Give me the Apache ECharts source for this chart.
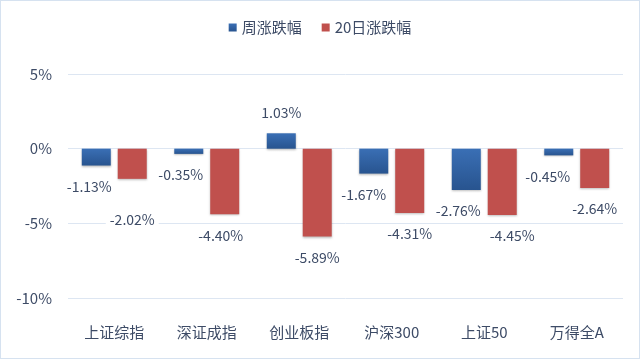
<!DOCTYPE html>
<html><head><meta charset="utf-8">
<script src="https://cdn.jsdelivr.net/npm/echarts@6/dist/echarts.min.js"></script>
<style>
html,body{margin:0;padding:0;background:#fff;}
#c{position:absolute;left:0;top:0;width:638px;height:357px;border:1px solid #d6e2f0;}
</style></head>
<body><div id="c"></div>
<script>
const categories = ['上证综指','深证成指','创业板指','沪深300','上证50','万得全A'];
const weekly = [-1.13, -0.35, 1.03, -1.67, -2.76, -0.45];
const day20 = [-2.02, -4.40, -5.89, -4.31, -4.45, -2.64];
const yTicks = [-10, -5, 0, 5];
const seriesNames = ['周涨跌幅','20日涨跌幅'];

const font = '"Noto Sans CJK SC", "Noto Sans", sans-serif';
const textColor = '#3d4b66';
const blueOffsets = [-7, -8, 0, -10, -8, -11];
const redOffsets = [0, -4, 0, 0, 10, 0];
const redExtraY = [20, 0, 0, 0, 0, 0];

function mk(vals, xoffs, yoffs){
  return vals.map((v,i)=>({value:v, label:{position: v >= 0 ? 'top' : 'bottom', offset:[xoffs[i], yoffs ? yoffs[i] : 0]}}));
}
const labelCommon = {
  show:true, position:'bottom', distance:12,
  formatter: p => p.value.toFixed(2) + '%',
  color: textColor, fontSize: 14, fontFamily: font,
  backgroundColor:'#fff', padding:[2,4]
};

const chart = echarts.init(document.getElementById('c'));
chart.setOption({
  animation:false,
  backgroundColor:'#fff',
  color:['#2e5f9f','#c0504d'],
  legend:{
    top:14, left:'center', itemWidth:8, itemHeight:8, itemGap:20, icon:'rect',
    textStyle:{color:textColor, fontSize:15, fontFamily:font}
  },
  grid:{left:67, right:16, top:73, bottom:60, containLabel:false},
  xAxis:{
    type:'category', data:categories,
    axisLine:{show:false}, axisTick:{show:false},
    axisLabel:{color:textColor, fontSize:15, fontFamily:font, margin:27}
  },
  yAxis:{
    type:'value', min:-10, max:5, interval:5,
    axisLabel:{color:textColor, fontSize:15, fontFamily:font, margin:16, formatter: v => yTicks.includes(v) ? v + '%' : ''},
    splitLine:{lineStyle:{color:'#dde6f2', width:1}},
    axisLine:{show:false}, axisTick:{show:false}
  },
  series:[
    {name:seriesNames[0], type:'bar', data:mk(weekly, blueOffsets), barWidth:29, barGap:'24%',
     itemStyle:{color:new echarts.graphic.LinearGradient(0,0,0,1,[{offset:0,color:'#3a6fb5'},{offset:1,color:'#28548f'}]),
       shadowColor:'rgba(0,0,0,0.25)', shadowBlur:2, shadowOffsetY:1},
     label:Object.assign({}, labelCommon)
    },
    {name:seriesNames[1], type:'bar', data:mk(day20, redOffsets, redExtraY), barWidth:29,
     itemStyle:{color:'#c0504d', shadowColor:'rgba(0,0,0,0.25)', shadowBlur:2, shadowOffsetY:1},
     label:Object.assign({}, labelCommon)
    }
  ]
});
</script></body></html>
